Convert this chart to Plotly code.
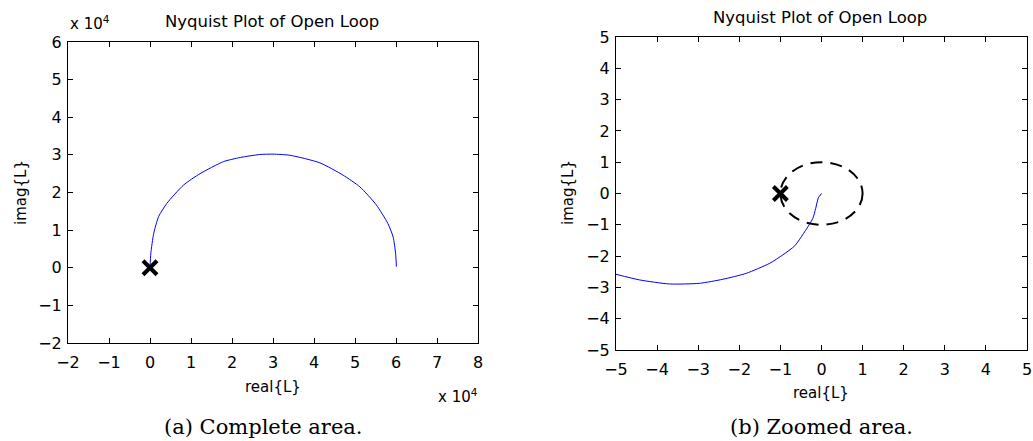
import plotly.graph_objects as go

# ---- data (left panel values in units of 1e4) ----
full_real = [0.0, 0.02, 0.09, 0.21, 0.41, 0.82, 1.22, 1.79, 2.2, 2.68, 3.0, 3.41,
             4.14, 4.71, 5.12, 5.52, 5.8, 5.93, 5.99, 6.01]
full_imag = [0.0, 0.38, 0.91, 1.36, 1.71, 2.2, 2.5, 2.82, 2.93, 3.01, 3.02, 2.99,
             2.79, 2.46, 2.15, 1.67, 1.18, 0.82, 0.38, 0.03]

zoom_real = [0.0, -0.08, -0.14, -0.21, -0.33, -0.65, -0.94, -1.26, -1.83, -2.4,
             -2.97, -3.7, -4.43, -5.0]
zoom_imag = [0.0, -0.15, -0.47, -0.79, -1.06, -1.67, -1.96, -2.23, -2.55, -2.74,
             -2.87, -2.89, -2.76, -2.58]

crit_real = [-1.0]
crit_imag = [0.0]
origin_real = [0.0]
origin_imag = [0.0]

left_xticks = [-2, -1, 0, 1, 2, 3, 4, 5, 6, 7, 8]
left_yticks = [-2, -1, 0, 1, 2, 3, 4, 5, 6]
right_ticks = [-5, -4, -3, -2, -1, 0, 1, 2, 3, 4, 5]

title_text = "Nyquist Plot of Open Loop"
xlabel = "real{L}"
ylabel = "imag{L}"
cap_a = "(a) Complete area."
cap_b = "(b) Zoomed area."

FONT = "DejaVu Sans, Liberation Sans, Arial, sans-serif"
SERIF = "DejaVu Serif, Liberation Serif, serif"
W, H = 1033, 441


def lbl(v):
    return str(v).replace("-", "\u2212")


fig = go.Figure()

fig.add_trace(go.Scatter(x=full_real, y=full_imag, mode="lines",
                         line=dict(color="#0000ff", width=1, shape="spline", smoothing=0.6),
                         xaxis="x", yaxis="y", showlegend=False))
fig.add_trace(go.Scatter(x=origin_real, y=origin_imag, mode="markers",
                         marker=dict(symbol="x-thin", size=14, line=dict(color="black", width=4)),
                         xaxis="x", yaxis="y", showlegend=False))

fig.add_trace(go.Scatter(x=zoom_real, y=zoom_imag, mode="lines",
                         line=dict(color="#0000ff", width=1, shape="spline", smoothing=0.6),
                         xaxis="x2", yaxis="y2", showlegend=False))
fig.add_trace(go.Scatter(x=crit_real, y=crit_imag, mode="markers",
                         marker=dict(symbol="x-thin", size=14, line=dict(color="black", width=4)),
                         xaxis="x2", yaxis="y2", showlegend=False))

# unit circle drawn in data coordinates
fig.add_shape(type="circle", xref="x2", yref="y2", x0=-1, x1=1, y0=-1, y1=1,
              line=dict(color="black", width=2, dash="12px,8px"), layer="above")

axis_common = dict(showgrid=False, zeroline=False, showline=True, linecolor="black",
                   linewidth=1, mirror="ticks", ticks="inside", ticklen=5,
                   tickcolor="black", automargin=False,
                   tickfont=dict(family=FONT, size=16, color="black"))

lx0, lx1 = 68 / W, 478 / W
ly0, ly1 = 1 - 343 / H, 1 - 42 / H
rx0, rx1 = 616 / W, 1027 / W
ry0, ry1 = 1 - 350 / H, 1 - 37 / H

fig.update_layout(
    width=W, height=H, margin=dict(l=0, r=0, t=0, b=0),
    paper_bgcolor="white", plot_bgcolor="white",
    xaxis=dict(domain=[lx0, lx1], range=[-2, 8], tickvals=left_xticks,
               ticktext=[lbl(v) for v in left_xticks], anchor="y",
               ticklabelstandoff=5, **axis_common),
    yaxis=dict(domain=[ly0, ly1], range=[-2, 6], tickvals=left_yticks,
               ticktext=[lbl(v) for v in left_yticks], anchor="x",
               ticklabelstandoff=2, **axis_common),
    xaxis2=dict(domain=[rx0, rx1], range=[-5, 5], tickvals=right_ticks,
                ticktext=[lbl(v) for v in right_ticks], anchor="y2",
                ticklabelstandoff=5, **axis_common),
    yaxis2=dict(domain=[ry0, ry1], range=[-5, 5], tickvals=right_ticks,
                ticktext=[lbl(v) for v in right_ticks], anchor="x2",
                ticklabelstandoff=2, **axis_common),
)

ann = []
def txt(x, y, s, size=15, family=FONT, angle=0):
    ann.append(dict(x=x / W, y=1 - y / H, xref="paper", yref="paper", text=s,
                    showarrow=False, xanchor="center", yanchor="middle",
                    textangle=angle, font=dict(family=family, size=size, color="black")))

txt(272, 22, title_text, size=16.5)
txt(820, 17, title_text, size=16.5)
txt(273, 387, xlabel)
txt(821, 393, xlabel)
txt(21, 193, ylabel, angle=-90)
txt(568, 193, ylabel, angle=-90)
txt(90, 23, "x 10<sup>4</sup>")
txt(458, 396, "x 10<sup>4</sup>")
txt(263, 427, cap_a, size=21, family=SERIF)
txt(821, 427, cap_b, size=21, family=SERIF)
fig.update_layout(annotations=ann)

fig.write_html("out.html", config={"displayModeBar": False},
               post_script="document.body.style.margin='0';document.body.style.overflow='hidden';")
